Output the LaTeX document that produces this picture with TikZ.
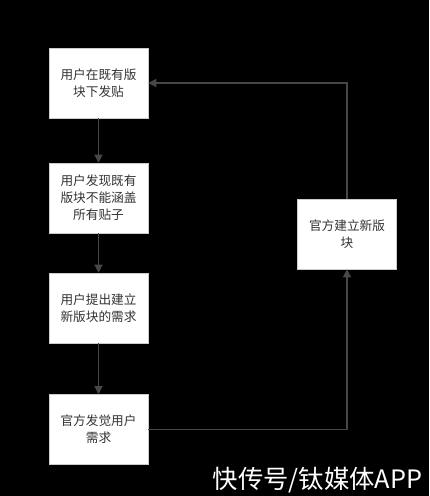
\documentclass[tikz,border=0pt]{standalone}
\usepackage{fontspec}
\setmainfont{Noto Sans CJK SC}
\usetikzlibrary{arrows.meta}
\definecolor{linegray}{HTML}{474747}

\tikzset{
  stage/.style={draw=gray!40, fill=white, rectangle, minimum width=74.25pt,
    minimum height=52.5pt, inner sep=0pt, align=center, text=black!80,
    font=\fontsize{9.5}{12.75}\selectfont},
  flow/.style={draw=linegray, line width=0.9pt, -{Triangle[width=6pt,length=6pt]}}
}

\begin{document}
\begin{tikzpicture}[x=0.75pt,y=-0.75pt]
            \fill[black] (0,0) rectangle (429,496);
            \useasboundingbox (0,0) rectangle (429,496);

            \draw (98.5,83) node [stage] (post) {用户在既有版\\块下发贴};
            \draw (98.5,198) node [stage] (find) {用户发现既有\\版块不能涵盖\\所有贴子};
            \draw (98.5,308) node [stage] (ask) {用户提出建立\\新版块的需求};
            \draw (98.5,429.5) node [stage] (notice) {官方发觉用户\\需求};
            \draw (347,234) node [stage] (build) {官方建立新版\\块};

            \draw[flow] (post) -- (find);
            \draw[flow] (find) -- (ask);
            \draw[flow] (ask) -- (notice);
            \draw[flow] (notice.east) -| (build.south);
            \draw[flow] (build.north) |- (post.east);

            \draw (317.5,480) node [text=white, inner sep=0pt, font=\fontsize{19}{19}\selectfont] (mark) {快传号/钛媒体APP};
        \end{tikzpicture}
\end{document}
